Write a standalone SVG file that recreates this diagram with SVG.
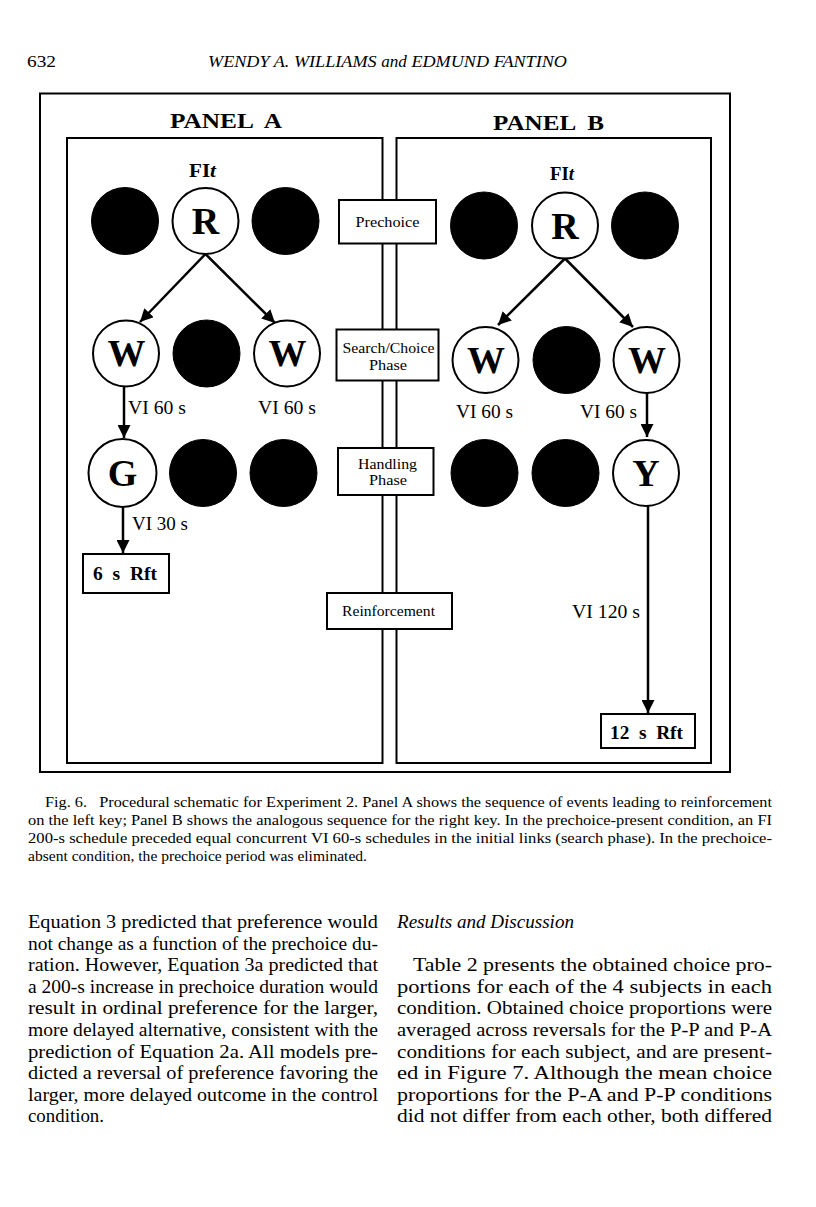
<svg xmlns="http://www.w3.org/2000/svg" width="816" height="1207" viewBox="0 0 816 1207" font-family="'Liberation Serif', 'Times New Roman', Times, serif">
<style>
text{font-family:'Liberation Serif','Times New Roman',Times,serif;fill:#000}
.frame{fill:none;stroke:#000;stroke-width:2}
.panel{fill:#fff;stroke:#000;stroke-width:2}
.key{fill:#fff;stroke:#000;stroke-width:2}
.dark{fill:#000;stroke:#000;stroke-width:1}
.box{fill:#fff;stroke:#000;stroke-width:2}
.conn{stroke:#000;stroke-width:2.5;fill:none;marker-end:url(#ah)}
.lt{font-size:38px;font-weight:bold;text-anchor:middle}
.ttl{font-size:21px;font-weight:bold}
.fi{font-size:18px;font-weight:bold}
.vi{font-size:19px}
.rft{font-size:19px;font-weight:bold}
.bx{font-size:15px;text-anchor:middle}
.cap{font-size:14.8px}
.body{font-size:18.5px}
.hd{font-size:17px}
</style>
<defs>
<marker id="ah" viewBox="0 0 13 13" refX="13" refY="6.5" markerWidth="13" markerHeight="13" markerUnits="userSpaceOnUse" orient="auto">
<path d="M0,0 L13,6.5 L0,13 z" fill="#000"/>
</marker>
</defs>
<rect width="816" height="1207" fill="#fff"/>

<g id="header">
<text class="hd" x="27" y="67" textLength="29" lengthAdjust="spacingAndGlyphs">632</text>
<text class="hd" x="208" y="67" font-style="italic" textLength="359" lengthAdjust="spacingAndGlyphs">WENDY A. WILLIAMS <tspan font-size="16">and</tspan> EDMUND FANTINO</text>
</g>

<rect id="outer-frame" class="frame" x="40" y="93.5" width="690" height="678.5"/>

<g id="panel-a">
<rect class="panel" x="67" y="138" width="315.5" height="625"/>
<text class="ttl" x="170" y="128" textLength="112" lengthAdjust="spacingAndGlyphs" xml:space="preserve">PANEL  A</text>
</g>
<g id="panel-b">
<rect class="panel" x="396.5" y="138" width="314.5" height="625"/>
<text class="ttl" x="493" y="130" textLength="111" lengthAdjust="spacingAndGlyphs" xml:space="preserve">PANEL  B</text>
</g>

<g id="phase-prechoice">
<rect class="box" x="339" y="200" width="97" height="43.5"/>
<text class="bx" x="387.5" y="226.5" textLength="64" lengthAdjust="spacingAndGlyphs">Prechoice</text>
</g>
<g id="phase-search">
<rect class="box" x="336.5" y="329.5" width="102" height="51"/>
<text class="bx" x="388.5" y="353" textLength="92" lengthAdjust="spacingAndGlyphs">Search/Choice</text>
<text class="bx" x="388" y="369.5" textLength="38" lengthAdjust="spacingAndGlyphs">Phase</text>
</g>
<g id="phase-handling">
<rect class="box" x="338" y="448" width="95.5" height="47"/>
<text class="bx" x="387.5" y="468.5" textLength="59" lengthAdjust="spacingAndGlyphs">Handling</text>
<text class="bx" x="388" y="485" textLength="38" lengthAdjust="spacingAndGlyphs">Phase</text>
</g>
<g id="phase-reinforcement">
<rect class="box" x="327" y="593" width="125" height="36"/>
<text class="bx" x="388.5" y="616" textLength="93" lengthAdjust="spacingAndGlyphs">Reinforcement</text>
</g>

<g id="a-fit"><text class="fi" x="189" y="177" textLength="27" lengthAdjust="spacingAndGlyphs">FI<tspan font-style="italic">t</tspan></text></g>
<g id="a-row1-left"><circle class="dark" cx="125" cy="221" r="33.5"/></g>
<g id="a-R"><circle class="key" cx="205.5" cy="221" r="33"/><text class="lt" x="205.5" y="234">R</text></g>
<g id="a-row1-right"><circle class="dark" cx="285.5" cy="221" r="33.5"/></g>
<g id="a-W1"><circle class="key" cx="126" cy="353.5" r="33"/><text class="lt" x="126.5" y="366">W</text></g>
<g id="a-row2-mid"><circle class="dark" cx="206.5" cy="353.5" r="33.5"/></g>
<g id="a-W2"><circle class="key" cx="287" cy="353.5" r="33"/><text class="lt" x="287.5" y="366">W</text></g>
<g id="a-G"><circle class="key" cx="122.5" cy="473" r="34"/><text class="lt" x="122.5" y="486">G</text></g>
<g id="a-row3-mid"><circle class="dark" cx="203" cy="473" r="33.5"/></g>
<g id="a-row3-right"><circle class="dark" cx="283.5" cy="473" r="33.5"/></g>
<g id="a-rft"><rect class="box" x="83" y="554" width="86" height="39"/><text class="rft" x="93" y="580" textLength="64" lengthAdjust="spacingAndGlyphs" xml:space="preserve">6  s  Rft</text></g>

<g id="b-fit"><text class="fi" x="550" y="180" textLength="24" lengthAdjust="spacingAndGlyphs">FI<tspan font-style="italic">t</tspan></text></g>
<g id="b-row1-left"><circle class="dark" cx="484" cy="225.5" r="33.5"/></g>
<g id="b-R"><circle class="key" cx="565" cy="225.5" r="33"/><text class="lt" x="565" y="238.5">R</text></g>
<g id="b-row1-right"><circle class="dark" cx="645" cy="225.5" r="33.5"/></g>
<g id="b-W1"><circle class="key" cx="485.5" cy="360" r="33"/><text class="lt" x="486" y="372.5">W</text></g>
<g id="b-row2-mid"><circle class="dark" cx="566.5" cy="360" r="33.5"/></g>
<g id="b-W2"><circle class="key" cx="646.5" cy="360" r="33"/><text class="lt" x="647" y="372.5">W</text></g>
<g id="b-row3-left"><circle class="dark" cx="484.5" cy="473" r="33.5"/></g>
<g id="b-row3-mid"><circle class="dark" cx="565.5" cy="473" r="33.5"/></g>
<g id="b-Y"><circle class="key" cx="646" cy="473" r="33"/><text class="lt" x="646" y="486">Y</text></g>
<g id="b-rft"><rect class="box" x="601" y="714" width="94" height="34"/><text class="rft" x="610" y="739" textLength="73" lengthAdjust="spacingAndGlyphs" xml:space="preserve">12  s  Rft</text></g>

<g id="connectors">
<line class="conn" x1="205.5" y1="254" x2="140" y2="322"/>
<line class="conn" x1="205.5" y1="254" x2="275" y2="323"/>
<line class="conn" x1="124" y1="386.5" x2="124" y2="438"/>
<line class="conn" x1="123" y1="507" x2="123" y2="553"/>
<line class="conn" x1="565" y1="258.5" x2="498" y2="325"/>
<line class="conn" x1="565" y1="258.5" x2="633" y2="327"/>
<line class="conn" x1="647" y1="393" x2="647" y2="437"/>
<line class="conn" x1="648" y1="506" x2="648" y2="713"/>
</g>

<g id="edge-labels">
<text class="vi" x="128" y="414" textLength="58" lengthAdjust="spacingAndGlyphs">VI 60 s</text>
<text class="vi" x="258" y="414" textLength="58" lengthAdjust="spacingAndGlyphs">VI 60 s</text>
<text class="vi" x="132" y="530" textLength="56" lengthAdjust="spacingAndGlyphs">VI 30 s</text>
<text class="vi" x="456" y="418" textLength="57" lengthAdjust="spacingAndGlyphs">VI 60 s</text>
<text class="vi" x="580" y="418" textLength="57" lengthAdjust="spacingAndGlyphs">VI 60 s</text>
<text class="vi" x="572" y="618" textLength="68" lengthAdjust="spacingAndGlyphs">VI 120 s</text>
</g>

<g id="caption">
<text class="cap" x="45" y="807" textLength="727" lengthAdjust="spacingAndGlyphs" xml:space="preserve">Fig. 6.   Procedural schematic for Experiment 2. Panel A shows the sequence of events leading to reinforcement</text>
<text class="cap" x="28" y="825" textLength="744" lengthAdjust="spacingAndGlyphs">on the left key; Panel B shows the analogous sequence for the right key. In the prechoice-present condition, an FI</text>
<text class="cap" x="28" y="843" textLength="744" lengthAdjust="spacingAndGlyphs">200-s schedule preceded equal concurrent VI 60-s schedules in the initial links (search phase). In the prechoice-</text>
<text class="cap" x="28" y="861" textLength="339" lengthAdjust="spacingAndGlyphs">absent condition, the prechoice period was eliminated.</text>
</g>

<g id="body-left">
<text class="body" x="28" y="928" textLength="350" lengthAdjust="spacingAndGlyphs">Equation 3 predicted that preference would</text>
<text class="body" x="28" y="949.6" textLength="350" lengthAdjust="spacingAndGlyphs">not change as a function of the prechoice du-</text>
<text class="body" x="28" y="971.2" textLength="350" lengthAdjust="spacingAndGlyphs">ration. However, Equation 3a predicted that</text>
<text class="body" x="28" y="992.8" textLength="350" lengthAdjust="spacingAndGlyphs">a 200-s increase in prechoice duration would</text>
<text class="body" x="28" y="1014.4" textLength="350" lengthAdjust="spacingAndGlyphs">result in ordinal preference for the larger,</text>
<text class="body" x="28" y="1036" textLength="350" lengthAdjust="spacingAndGlyphs">more delayed alternative, consistent with the</text>
<text class="body" x="28" y="1057.6" textLength="350" lengthAdjust="spacingAndGlyphs">prediction of Equation 2a. All models pre-</text>
<text class="body" x="28" y="1079.2" textLength="350" lengthAdjust="spacingAndGlyphs">dicted a reversal of preference favoring the</text>
<text class="body" x="28" y="1100.8" textLength="350" lengthAdjust="spacingAndGlyphs">larger, more delayed outcome in the control</text>
<text class="body" x="28" y="1122.4" textLength="76" lengthAdjust="spacingAndGlyphs">condition.</text>
</g>

<g id="body-right">
<text class="body" x="397" y="928" font-style="italic" textLength="177" lengthAdjust="spacingAndGlyphs">Results and Discussion</text>
<text class="body" x="413" y="971.2" textLength="359" lengthAdjust="spacingAndGlyphs">Table 2 presents the obtained choice pro-</text>
<text class="body" x="397" y="992.8" textLength="375" lengthAdjust="spacingAndGlyphs">portions for each of the 4 subjects in each</text>
<text class="body" x="397" y="1014.4" textLength="375" lengthAdjust="spacingAndGlyphs">condition. Obtained choice proportions were</text>
<text class="body" x="397" y="1036" textLength="375" lengthAdjust="spacingAndGlyphs">averaged across reversals for the P-P and P-A</text>
<text class="body" x="397" y="1057.6" textLength="375" lengthAdjust="spacingAndGlyphs">conditions for each subject, and are present-</text>
<text class="body" x="397" y="1079.2" textLength="375" lengthAdjust="spacingAndGlyphs">ed in Figure 7. Although the mean choice</text>
<text class="body" x="397" y="1100.8" textLength="375" lengthAdjust="spacingAndGlyphs">proportions for the P-A and P-P conditions</text>
<text class="body" x="397" y="1122.4" textLength="375" lengthAdjust="spacingAndGlyphs">did not differ from each other, both differed</text>
</g>
</svg>
